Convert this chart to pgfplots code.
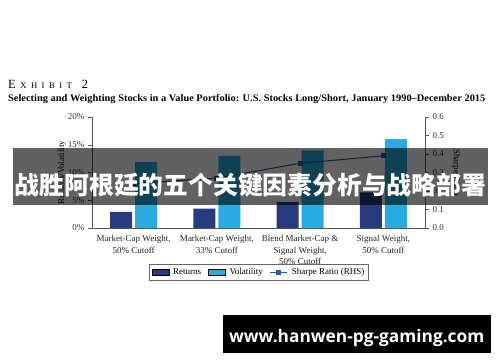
\documentclass[border=0pt]{standalone}
\usepackage{pgfplots}
\pgfplotsset{compat=1.18}
\usepackage{fontspec}
\setmainfont{Liberation Serif}
\newfontfamily\cjk{Noto Sans CJK SC}
\newfontfamily\web{Open Sans}
\newfontfamily\subt[FakeStretch=1.04]{Liberation Serif}
\definecolor{ret}{HTML}{263C7E}
\definecolor{vol}{HTML}{29ABE2}
\definecolor{shp}{HTML}{1F5C99}
\definecolor{axc}{HTML}{555555}
\begin{document}
\begin{tikzpicture}[x=1pt,y=1pt]
\path[use as bounding box, fill=white] (0,0) rectangle (500,362);
\begin{axis}[
  at={(92pt,134pt)}, anchor=south west,
  scale only axis, width=333pt, height=111pt,
  /pgf/number format/assume math mode=true,
  ybar=3pt, bar width=22pt,
  xmin=-0.5, xmax=3.5, ymin=0, ymax=20,
  axis x line*=bottom, axis y line*=left,
  axis line style={draw=axc, line width=0.5pt},
  tick align=outside, major tick length=4pt,
  tick style={draw=axc, line width=0.5pt},
  xtick={0,1,2,3},
  xticklabels={{Market-Cap Weight,\\50\% Cutoff},{Market-Cap Weight,\\33\% Cutoff},{Blend Market-Cap \&\\Signal Weight,\\50\% Cutoff},{Signal Weight,\\50\% Cutoff}},
  xticklabel style={align=center, font=\fontsize{9}{11.5}\selectfont, text=black!85},
  major x tick style={draw=none},
  ytick={0,5,10,15,20},
  yticklabels={0\%,5\%,10\%,15\%,20\%},
  yticklabel style={font=\fontsize{9}{10}\selectfont, text=black!80},
  ylabel={Returns/Volatility},
  ylabel style={at={(axis description cs:-0.09,0.5)}, anchor=center, font=\fontsize{9}{10}\selectfont},
]
\addplot[fill=ret, draw=none] coordinates {(0,2.9) (1,3.5) (2,4.7) (3,6.4)};
\addplot[fill=vol, draw=none] coordinates {(0,11.9) (1,13.0) (2,14.0) (3,16.0)};
\end{axis}
\begin{axis}[
  at={(92pt,134pt)}, anchor=south west,
  scale only axis, width=333pt, height=111pt,
  /pgf/number format/assume math mode=true,
  xmin=-0.5, xmax=3.5, ymin=0, ymax=0.6,
  axis y line*=right, axis x line=none,
  axis line style={draw=axc, line width=0.5pt},
  tick align=outside, major tick length=4pt,
  tick style={draw=axc, line width=0.5pt},
  ytick={0,0.1,0.2,0.3,0.4,0.5,0.6},
  yticklabels={0.0,0.1,0.2,0.3,0.4,0.5,0.6},
  yticklabel style={font=\fontsize{9}{10}\selectfont, text=black!80},
  ylabel={Sharpe Ratio},
  ylabel style={at={(axis description cs:1.093,0.5)}, anchor=center, rotate=180, font=\fontsize{9}{10}\selectfont},
  legend columns=3,
  legend style={at={(axis description cs:0.5015,-0.40)}, anchor=center, draw=black!60, line width=0.4pt,
    font=\fontsize{9}{10}\selectfont, inner sep=2pt,
    /tikz/every odd column/.append style={column sep=2pt},
    /tikz/every even column/.append style={column sep=5pt}},
  legend cell align=left,
]
\addlegendimage{area legend, fill=ret, draw=none}
\addlegendentry{Returns}
\addlegendimage{area legend, fill=vol, draw=none}
\addlegendentry{Volatility}
\addplot[shp, line width=1pt, mark=square*, mark size=2pt] coordinates {(0,0.24) (1,0.27) (2,0.35) (3,0.39)};
\addlegendentry{Sharpe Ratio (RHS)}
\end{axis}
\node[anchor=base west, inner sep=0] at (8,273.7) {{\fontsize{12.5}{12}\selectfont E}\hspace{4.5pt}{\fontsize{8.6}{10}\selectfont X\hspace{4.5pt}H\hspace{4.5pt}I\hspace{4.5pt}B\hspace{4.5pt}I\hspace{4.5pt}T}\hspace{10pt}{\fontsize{12.5}{12}\selectfont 2}};
\node[anchor=base west, inner sep=0] at (8,260.3) {\subt\bfseries\fontsize{10}{11}\selectfont Selecting and Weighting Stocks in a Value Portfolio: U.S. Stocks Long/Short, January 1990–December 2015};
\fill[black, opacity=0.62] (13,214) rectangle (488,157);
\node[anchor=base, inner sep=0, text=white, font=\cjk\bfseries\fontsize{24.8}{25}\selectfont] at (250.5,168) {战胜阿根廷的五个关键因素分析与战略部署};
\fill[black] (222.7,47) rectangle (490.7,9.3);
\node[anchor=base, inner sep=0, text=white, font=\web\bfseries\fontsize{17.3}{20}\selectfont] at (356.7,20) {www.hanwen-pg-gaming.com};
\end{tikzpicture}
\end{document}
